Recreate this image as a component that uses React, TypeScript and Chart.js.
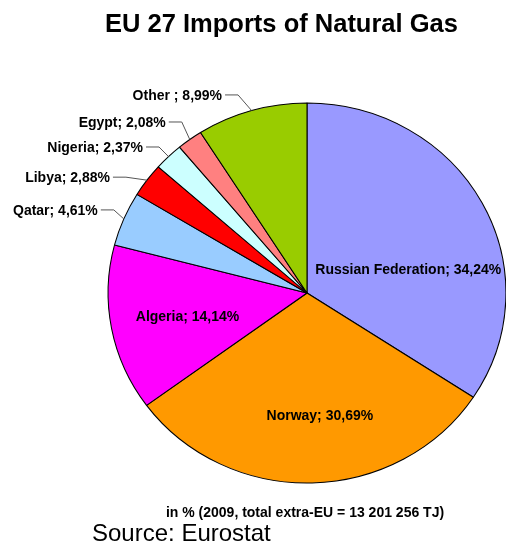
import { useEffect, useRef } from "react";
import { Chart, registerables } from "chart.js";

Chart.register(...registerables);

const countries = ["Russian Federation", "Norway", "Algeria", "Qatar", "Libya", "Nigeria", "Egypt", "Other "];
const shares = [34.24, 30.69, 14.14, 4.61, 2.88, 2.37, 2.08, 8.99];
const sliceColors = ["#9999FF", "#FF9900", "#FF00FF", "#99CCFF", "#FF0000", "#CCFFFF", "#FF8080", "#99CC00"];
const insideLabel = [true, true, true, false, false, false, false, false];
const labelOffsets: [number, number][] = [
  [5, 26],
  [10, 18],
  [-12, 3.5],
  [-26, -9],
  [-37, -3],
  [-25.5, -9.6],
  [-24, -17.5],
  [-29.5, -15.6],
];
const titleText = "EU 27 Imports of Natural Gas";
const noteText = "in % (2009, total extra-EU = 13 201 256 TJ)";
const sourceText = "Source: Eurostat";

const STRETCH_X = 1.047;
const FONT = '"Liberation Sans", Arial, Helvetica, sans-serif';

const stretchPlugin = {
  id: "stretchPie",
  beforeDatasetsDraw(chart: any) {
    const arc = chart.getDatasetMeta(0).data[0];
    const cx = arc.x;
    const ctx = chart.ctx;
    ctx.save();
    ctx.translate(cx, 0);
    ctx.scale(STRETCH_X, 1);
    ctx.translate(-cx, 0);
  },
  afterDatasetsDraw(chart: any) {
    chart.ctx.restore();
  },
};

const labelPlugin = {
  id: "sliceLabels",
  afterDraw(chart: any) {
    const ctx = chart.ctx;
    const meta = chart.getDatasetMeta(0);
    ctx.save();
    meta.data.forEach((el: any, i: number) => {
      const { x, y, startAngle, endAngle, outerRadius } = el.getProps(
        ["x", "y", "startAngle", "endAngle", "outerRadius"],
        true
      );
      const mid = (startAngle + endAngle) / 2;
      const txt = `${countries[i]}; ${shares[i].toFixed(2).replace(".", ",")}%`;
      ctx.font = `bold 14px ${FONT}`;
      ctx.fillStyle = "#000";
      ctx.textBaseline = "alphabetic";
      const [dx, dy] = labelOffsets[i];
      if (insideLabel[i]) {
        const r = outerRadius * 0.55;
        const px = x + STRETCH_X * r * Math.cos(mid) + dx;
        const py = y + r * Math.sin(mid) + dy;
        ctx.textAlign = "center";
        ctx.fillText(txt, px, py + 5);
      } else {
        const ex = x + STRETCH_X * outerRadius * Math.cos(mid);
        const ey = y + outerRadius * Math.sin(mid);
        const ax = ex + dx;
        const ay = ey + dy;
        ctx.strokeStyle = "#555555";
        ctx.lineWidth = 1;
        ctx.beginPath();
        ctx.moveTo(ax + 3, ay);
        ctx.lineTo(ax + 16, ay);
        ctx.lineTo(ex, ey);
        ctx.stroke();
        ctx.textAlign = "right";
        ctx.fillText(txt, ax, ay + 5);
      }
    });

    ctx.fillStyle = "#000";
    ctx.textBaseline = "alphabetic";
    ctx.textAlign = "center";
    ctx.font = `bold 25.5px ${FONT}`;
    ctx.fillText(titleText, 281.5, 32);
    ctx.font = `bold 14px ${FONT}`;
    ctx.fillText(noteText, 305, 516.5);
    ctx.textAlign = "left";
    ctx.font = `24px ${FONT}`;
    ctx.fillText(sourceText, 92, 541);
    ctx.restore();
  },
};

export default function App() {
  const canvasRef = useRef<HTMLCanvasElement | null>(null);

  useEffect(() => {
    const canvas = canvasRef.current;
    if (!canvas) return;
    const chart = new Chart(canvas, {
      type: "pie",
      data: {
        labels: countries,
        datasets: [
          {
            data: shares,
            backgroundColor: sliceColors,
            borderColor: "#000000",
            borderWidth: 1,
            clip: false,
          } as any,
        ],
      },
      options: {
        responsive: false,
        animation: false,
        events: [],
        radius: 190,
        layout: { padding: { left: 112, right: 4, top: 98, bottom: 56 } },
        plugins: {
          legend: { display: false },
          title: { display: false },
          tooltip: { enabled: false },
        },
      } as any,
      plugins: [stretchPlugin, labelPlugin],
    });
    return () => chart.destroy();
  }, []);

  return (
    <div style={{ position: "absolute", left: 0, top: 0, width: 506, height: 544, background: "#fff" }}>
      <canvas ref={canvasRef} width={506} height={544} style={{ display: "block" }} />
    </div>
  );
}
